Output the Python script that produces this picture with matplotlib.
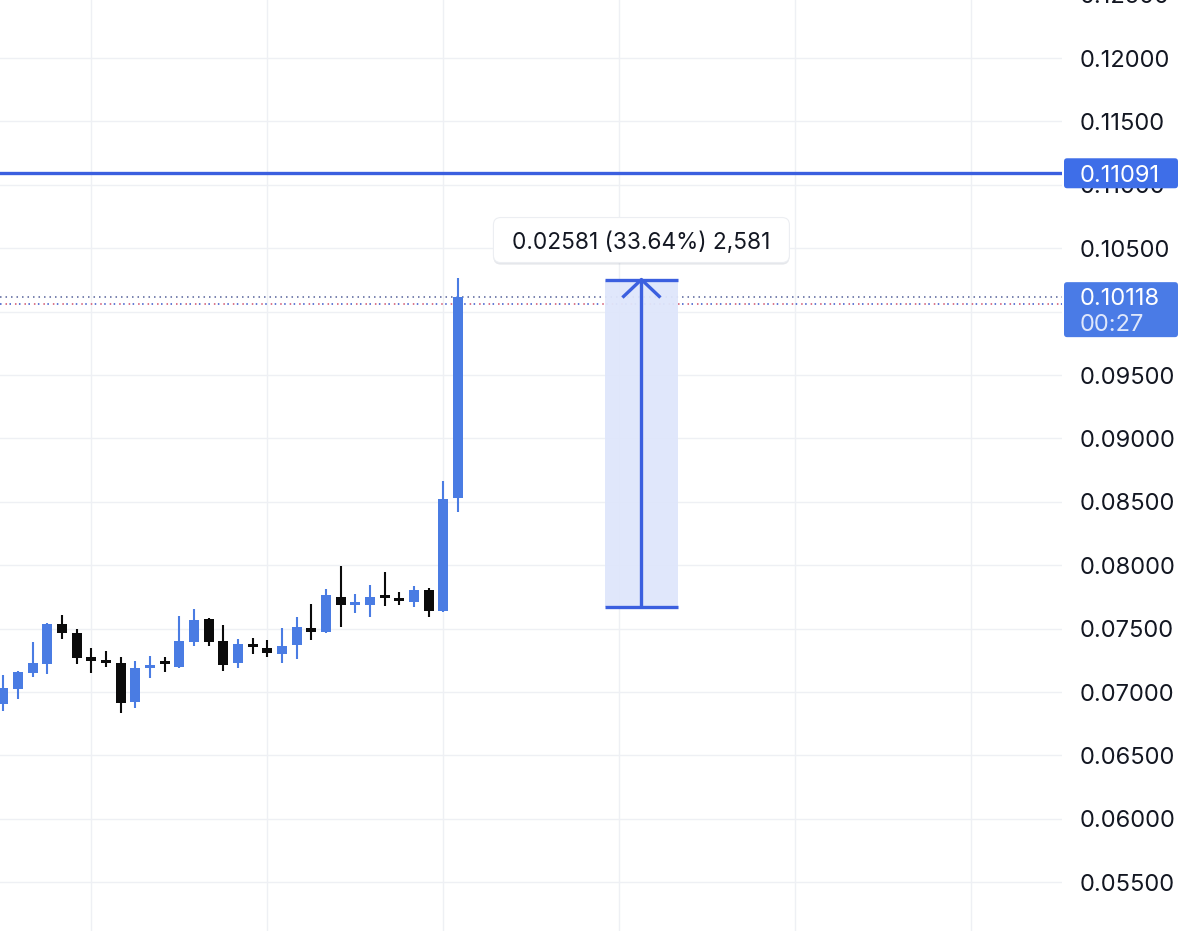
import matplotlib
matplotlib.use("Agg")
import matplotlib.pyplot as plt
from matplotlib.patches import Rectangle, FancyBboxPatch
import matplotlib.transforms as mtransforms
import matplotlib.patheffects as pe

# ---------------- data ----------------
opens = [0.06906, 0.07022, 0.07152, 0.07219, 0.07534, 0.07468, 0.07279, 0.07247,
         0.07231, 0.06921, 0.07192, 0.07234, 0.07200, 0.07397, 0.07576, 0.07402,
         0.07227, 0.07376, 0.07350, 0.07298, 0.07369, 0.07507, 0.07476, 0.07752,
         0.07694, 0.07689, 0.07760, 0.07734, 0.07708, 0.07805, 0.07639, 0.08533]
highs = [0.07134, 0.07166, 0.07397, 0.07542, 0.07607, 0.07495, 0.07345, 0.07324,
         0.07274, 0.07245, 0.07284, 0.07274, 0.07600, 0.07652, 0.07580, 0.07529,
         0.07421, 0.07424, 0.07410, 0.07507, 0.07594, 0.07692, 0.07810, 0.07994,
         0.07771, 0.07844, 0.07949, 0.07791, 0.07836, 0.07818, 0.08664, 0.10263]
lows = [0.06850, 0.06943, 0.07116, 0.07140, 0.07416, 0.07219, 0.07148, 0.07195,
        0.06837, 0.06876, 0.07108, 0.07160, 0.07187, 0.07363, 0.07363, 0.07162,
        0.07187, 0.07298, 0.07279, 0.07227, 0.07258, 0.07410, 0.07468, 0.07515,
        0.07621, 0.07589, 0.07681, 0.07686, 0.07668, 0.07594, 0.07635, 0.08422]
closes = [0.07029, 0.07160, 0.07231, 0.07534, 0.07463, 0.07266, 0.07245, 0.07239,
          0.06916, 0.07190, 0.07213, 0.07227, 0.07402, 0.07568, 0.07397, 0.07213,
          0.07379, 0.07353, 0.07305, 0.07363, 0.07515, 0.07476, 0.07765, 0.07686,
          0.07704, 0.07747, 0.07750, 0.07724, 0.07805, 0.07641, 0.08522, 0.10118]

ytick_vals = [0.055, 0.060, 0.065, 0.070, 0.075, 0.080, 0.085, 0.090, 0.095,
              0.100, 0.105, 0.110, 0.115, 0.120]
ytick_labels = ["0.05500", "0.06000", "0.06500", "0.07000", "0.07500", "0.08000",
                "0.08500", "0.09000", "0.09500", "0.10000", "0.10500", "0.11000",
                "0.11500", "0.12000"]
top_partial_val = 0.125
top_partial_label = "0.12500"
xgrid_idx = [6, 18, 30, 42, 54, 66]

last_price = 0.10118
last_price_label = "0.10118"
timer_label = "00:27"
level_price = 0.11091
level_label = "0.11091"
second_dotted = 0.10058
measure_low = 0.07672
measure_high = 0.10253
measure_start = 41
measure_end = 46
measure_text = "0.02581 (33.64%) 2,581"

# ---------------- style ----------------
UP = "#4a7ce3"
DOWN = "#0b0b0b"
LINE_BLUE = "#3b5fdf"
LABEL_BLUE = "#3e6ee8"
TXT = "#131722"
FONT = "Inter"
LBL_FS = 17.0
TIP_FS = 16.3

W, H = 1200, 931
fig = plt.figure(figsize=(W / 100, H / 100), dpi=100)
fig.patch.set_facecolor("white")
ax_w_px = 1062
ax = fig.add_axes([0, 0, ax_w_px / W, 1])

y_top = 0.124574
y_bot = 0.051155
ax.set_ylim(y_bot, y_top)
ax.set_xlim(-0.225, 72.17)
px_y = (y_top - y_bot) / H          # data per pixel (y)
px_x = 72.395 / ax_w_px             # data per pixel (x)

for s in ax.spines.values():
    s.set_visible(False)

ax.yaxis.tick_right()
ax.set_yticks(ytick_vals)
ax.set_yticklabels(ytick_labels, fontfamily=FONT)
ax.tick_params(axis="y", length=0, pad=13, labelsize=LBL_FS, labelcolor=TXT)
ax.set_xticks(xgrid_idx)
ax.set_xticklabels([])
ax.tick_params(axis="x", length=0)
ax.grid(True, color="#eef0f4", lw=1.0, zorder=0)
ax.set_axisbelow(True)

blend = mtransforms.blended_transform_factory(ax.transAxes, ax.transData)
lab_x = 1 + 18 / ax_w_px
ax.text(lab_x, top_partial_val, top_partial_label, transform=blend, clip_on=False,
        va="center_baseline", ha="left", fontsize=LBL_FS, color=TXT, fontfamily=FONT)

# ---------------- candles ----------------
body_w = 0.68
min_h = 3 * px_y
for i, (o, h, l, c) in enumerate(zip(opens, highs, lows, closes)):
    col = UP if c >= o else DOWN
    ax.vlines(i, l, h, color=col, lw=1.5, zorder=3)
    bottom = min(o, c)
    hgt = max(abs(c - o), min_h)
    if abs(c - o) < min_h:
        bottom = (o + c) / 2 - min_h / 2
    ax.add_patch(Rectangle((i - body_w / 2, bottom), body_w, hgt,
                           facecolor=col, edgecolor="none", zorder=3))

# ---------------- price lines ----------------
ax.axhline(level_price, color=LINE_BLUE, lw=2.4, zorder=4)
ax.axhline(last_price, color="#56629a", lw=1.1, ls=(0, (1, 2.6)), zorder=2)
ax.axhline(second_dotted, color="#3553c8", lw=1.1, ls=(0, (1, 5.2)), zorder=2)
ax.axhline(second_dotted, color="#d0506a", lw=1.1, ls=(2.6, (1, 5.2)), zorder=2)

# ---------------- measurement tool ----------------
ax.add_patch(Rectangle((measure_start, measure_low), measure_end - measure_start,
                       measure_high - measure_low, facecolor="#dfe6fb",
                       edgecolor="none", alpha=0.95, zorder=2))
ax.hlines([measure_low, measure_high], measure_start, measure_end,
          color=LINE_BLUE, lw=2.4, zorder=4)
mid = (measure_start + measure_end) / 2
ax.vlines(mid, measure_low, measure_high, color=LINE_BLUE, lw=2.4, zorder=4)
arm_dx = 19 * px_x
arm_dy = 18 * px_y
ax.plot([mid - arm_dx, mid, mid + arm_dx],
        [measure_high - arm_dy, measure_high, measure_high - arm_dy],
        color=LINE_BLUE, lw=2.4, solid_capstyle="butt", zorder=4)

# tooltip box
tip_w = 296 * px_x
tip_h = 45 * px_y
tip_cy = measure_high + 39.5 * px_y
aspect = px_y / px_x
tip = FancyBboxPatch((mid - tip_w / 2, tip_cy - tip_h / 2), tip_w, tip_h,
                     boxstyle="round,pad=0,rounding_size=0.5",
                     mutation_aspect=aspect, facecolor="white",
                     edgecolor="#eceef2", lw=0.8, zorder=6)
tip.set_path_effects([pe.SimplePatchShadow(offset=(0, -1.5), shadow_rgbFace="#9aa0b0",
                                           alpha=0.25), pe.Normal()])
ax.add_patch(tip)
ax.text(mid, tip_cy, measure_text, ha="center", va="center_baseline",
        fontsize=TIP_FS, color=TXT, fontfamily=FONT, zorder=7)

# ---------------- right-side labels ----------------
bx0 = 1064 / ax_w_px
bw = 114 / ax_w_px
asp2 = px_y / (1 / ax_w_px)
box1 = FancyBboxPatch((bx0, level_price - 15 * px_y), bw, 30 * px_y,
                      boxstyle="round,pad=0,rounding_size=0.003",
                      mutation_aspect=asp2, transform=blend, clip_on=False,
                      facecolor=LABEL_BLUE, edgecolor="none", zorder=10)
ax.add_patch(box1)
ax.text(lab_x, level_price, level_label, transform=blend, clip_on=False,
        ha="left", va="center_baseline", fontsize=LBL_FS, color="white",
        fontfamily=FONT, zorder=11)

box2 = FancyBboxPatch((bx0, last_price - 40.5 * px_y), bw, 55 * px_y,
                      boxstyle="round,pad=0,rounding_size=0.003",
                      mutation_aspect=asp2, transform=blend, clip_on=False,
                      facecolor="#4a7be6", edgecolor="none", zorder=10)
ax.add_patch(box2)
ax.text(lab_x, last_price, last_price_label, transform=blend, clip_on=False,
        ha="left", va="center_baseline", fontsize=LBL_FS, color="white",
        fontfamily=FONT, zorder=11)
ax.text(lab_x, last_price - 25.5 * px_y, timer_label, transform=blend, clip_on=False,
        ha="left", va="center_baseline", fontsize=LBL_FS, color="#dfe7fb",
        fontfamily=FONT, zorder=11)

fig.savefig("out.png", dpi=100, facecolor="white")
